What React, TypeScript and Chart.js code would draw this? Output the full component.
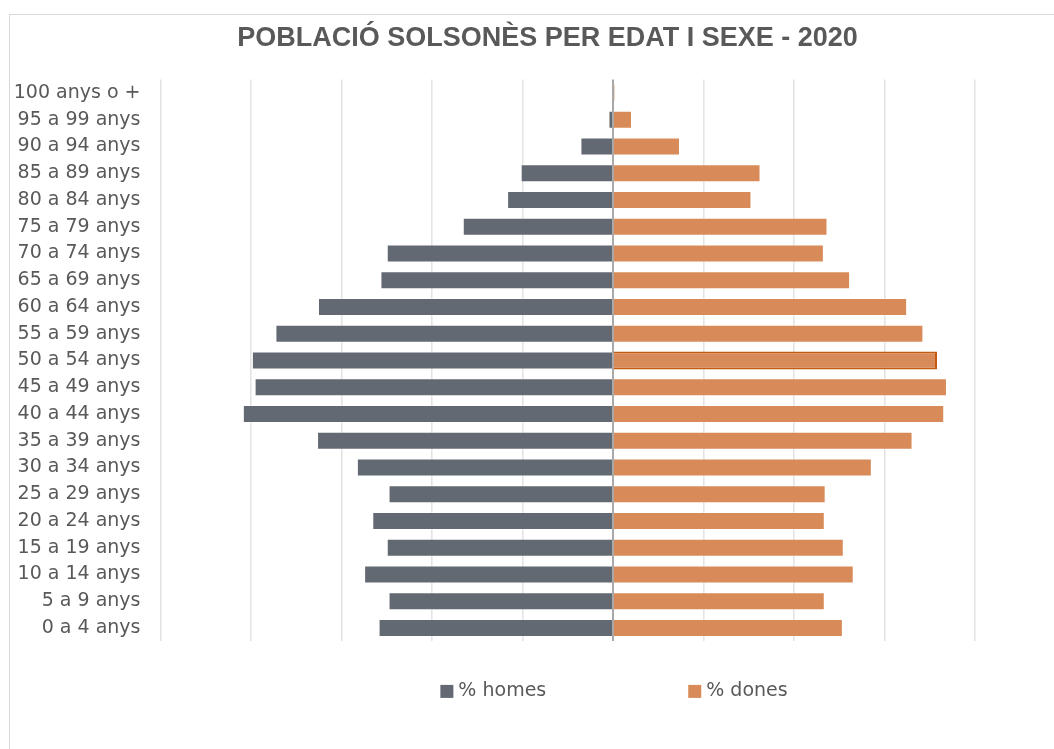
import React, { useEffect, useRef } from 'react';
import { Chart, registerables } from 'chart.js';

Chart.register(...registerables);

const TITLE = 'POBLACIÓ SOLSONÈS PER EDAT I SEXE - 2020';

const AGE_GROUPS = [
  '100 anys o +',
  '95 a 99 anys',
  '90 a 94 anys',
  '85 a 89 anys',
  '80 a 84 anys',
  '75 a 79 anys',
  '70 a 74 anys',
  '65 a 69 anys',
  '60 a 64 anys',
  '55 a 59 anys',
  '50 a 54 anys',
  '45 a 49 anys',
  '40 a 44 anys',
  '35 a 39 anys',
  '30 a 34 anys',
  '25 a 29 anys',
  '20 a 24 anys',
  '15 a 19 anys',
  '10 a 14 anys',
  '5 a 9 anys',
  '0 a 4 anys',
];

const MALE_PCT = [
  0.01, 0.05, 0.36, 1.02, 1.17, 1.66, 2.5, 2.57, 3.26, 3.73, 3.99,
  3.96, 4.09, 3.27, 2.83, 2.48, 2.66, 2.5, 2.75, 2.48, 2.59,
];

const FEMALE_PCT = [
  0.02, 0.21, 0.74, 1.63, 1.53, 2.37, 2.33, 2.62, 3.25, 3.43, 3.58,
  3.69, 3.66, 3.31, 2.86, 2.35, 2.34, 2.55, 2.66, 2.34, 2.54,
];

const SERIES_LABELS = ['% homes', '% dones'];

const X_MIN = -5;
const X_MAX = 4;
const X_STEP = 1;

// female bar drawn with a dark outline in the reference ("50 a 54 anys")
const HIGHLIGHT_GROUP = '50 a 54 anys';

const MALE_COLOR = '#636972';
const FEMALE_COLOR = '#D88B58';
const HIGHLIGHT_BORDER = '#C55A11';
const TEXT_COLOR = '#595959';

const legendPlugin = {
  id: 'pyramidLegend',
  afterDraw(chart: any) {
    const { ctx } = chart;
    const box = 13;
    const gap = 5;
    const spacing = 142;
    ctx.save();
    ctx.font = '19px "DejaVu Sans"';
    ctx.textBaseline = 'middle';
    ctx.textAlign = 'left';
    const items = chart.data.datasets.map((ds: any) => ({
      text: ds.label as string,
      color: ds.backgroundColor as string,
    }));
    const widths = items.map((it: any) => box + gap + ctx.measureText(it.text).width);
    const total = widths.reduce((a: number, b: number) => a + b, 0) + spacing * (items.length - 1);
    const cx = chart.scales.x.getPixelForValue(0);
    let x = cx - total / 2 + 1;
    const y = chart.chartArea.bottom + 50;
    items.forEach((it: any, i: number) => {
      ctx.fillStyle = it.color;
      ctx.fillRect(x, y - box / 2, box, box);
      ctx.fillStyle = TEXT_COLOR;
      ctx.fillText(it.text, x + box + gap, y);
      x += widths[i] + spacing;
    });
    ctx.restore();
  },
};

export default function App() {
  const canvasRef = useRef<HTMLCanvasElement | null>(null);

  useEffect(() => {
    if (!canvasRef.current) return;
    const femaleBorders = AGE_GROUPS.map((g) =>
      g === HIGHLIGHT_GROUP ? HIGHLIGHT_BORDER : 'rgba(255,255,255,0.3)'
    );
    const femaleBorderWidths = AGE_GROUPS.map((g) => (g === HIGHLIGHT_GROUP ? 2 : 1));

    const chart = new Chart(canvasRef.current, {
      type: 'bar',
      data: {
        labels: AGE_GROUPS,
        datasets: [
          {
            label: SERIES_LABELS[0],
            data: MALE_PCT.map((v) => -v),
            backgroundColor: MALE_COLOR,
            borderColor: 'rgba(255,255,255,0.3)',
            borderWidth: 1,
            barPercentage: 0.67,
            categoryPercentage: 1,
          },
          {
            label: SERIES_LABELS[1],
            data: FEMALE_PCT,
            backgroundColor: FEMALE_COLOR,
            borderColor: femaleBorders,
            borderWidth: femaleBorderWidths,
            barPercentage: 0.67,
            categoryPercentage: 1,
          },
        ],
      },
      options: {
        indexAxis: 'y',
        animation: false,
        responsive: true,
        maintainAspectRatio: false,
        layout: {
          padding: { left: 0, right: -31, top: 0, bottom: 107.6 },
        },
        scales: {
          x: {
            stacked: true,
            min: X_MIN,
            max: X_MAX,
            z: 1,
            ticks: { display: false, stepSize: X_STEP },
            grid: {
              drawTicks: false,
              lineWidth: (c: any) => (c.tick && c.tick.value === 0 ? 2 : 1.6),
              color: (c: any) =>
                c.tick && c.tick.value === 0 ? '#a9a9a9' : 'rgba(0,0,0,0.11)',
            },
            border: { display: false },
            afterFit: (scale: any) => {
              scale.height = 0;
            },
          },
          y: {
            stacked: true,
            grid: { display: false, drawTicks: false },
            border: { display: false },
            ticks: {
              autoSkip: false,
              padding: 20,
              color: TEXT_COLOR,
              font: { family: '"DejaVu Sans"', size: 19 },
            },
            afterFit: (scale: any) => {
              scale.width = 150.5;
            },
          },
          yRight: {
            type: 'category',
            position: 'right',
            labels: AGE_GROUPS,
            grid: { display: false, drawTicks: false },
            border: { display: false },
            ticks: { display: false },
            afterFit: (scale: any) => {
              scale.width = 110;
            },
          },
        },
        plugins: {
          legend: { display: false },
          tooltip: { enabled: false },
          title: {
            display: true,
            text: TITLE,
            color: TEXT_COLOR,
            font: { family: '"Liberation Sans"', size: 27, weight: 'bold' },
            padding: { top: 7, bottom: 25.2 },
          },
        },
      },
      plugins: [legendPlugin],
    } as any);

    return () => chart.destroy();
  }, []);

  return (
    <div
      style={{
        position: 'fixed',
        left: 0,
        top: 0,
        width: 1054,
        height: 749,
        overflow: 'hidden',
        background: '#ffffff',
      }}
    >
      <div
        style={{
          position: 'absolute',
          left: 9,
          top: 14,
          width: 1100,
          height: 800,
          border: '1px solid #d9d9d9',
          boxSizing: 'border-box',
        }}
      >
        <div style={{ position: 'absolute', left: 0, top: 0, width: 1044, height: 734 }}>
          <canvas ref={canvasRef} />
        </div>
      </div>
    </div>
  );
}
